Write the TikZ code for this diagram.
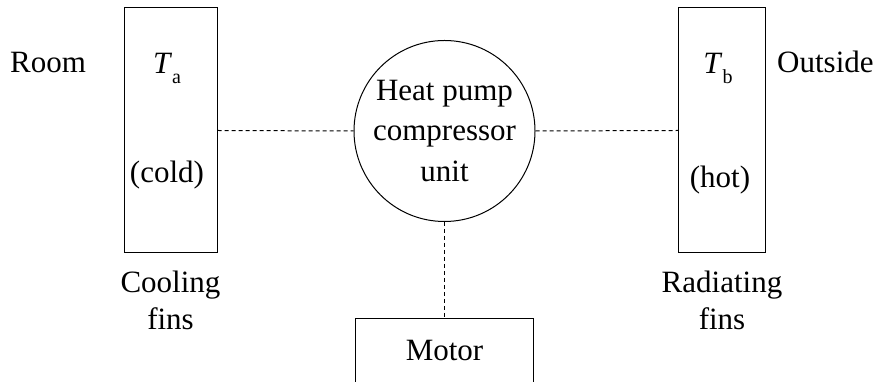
\documentclass[tikz,border=0pt]{standalone}
\usepackage{fontspec}
\setmainfont{Liberation Serif}
\usetikzlibrary{positioning}

\newcommand{\tsub}[2]{\textit{#1}\raisebox{-0.3em}{\fontsize{20}{20}\selectfont #2}}

\begin{document}
\begin{tikzpicture}[x=1pt, y=1pt, font=\fontsize{31}{37}\selectfont,
    fin/.style={draw, line width=1pt, minimum height=245pt, inner sep=0pt},
    lbl/.style={inner sep=0pt},
    link/.style={draw=black, line width=1pt, dash pattern=on 4pt off 3pt}]
    \useasboundingbox (0,0) rectangle (880,382);

    % fins and compressor
    \node[fin, minimum width=93pt] (coldfins) at (170.5,251.5) {};
    \node[fin, minimum width=87pt] (hotfins) at (722,251.5) {};
    \node[draw, circle, line width=1pt, minimum size=181pt, inner sep=0pt, align=center,
          font=\fontsize{31}{40.5}\selectfont] (pump) at (444.5,251)
          {Heat pump\\compressor\\unit};

    % motor, open at the bottom edge
    \node[lbl, anchor=north, minimum width=178pt, minimum height=63pt] (motor) at (444.5,63) {Motor};
    \draw[line width=1pt] (motor.south west) |- (motor.north east) -- (motor.south east);

    % labels
    \node[lbl, anchor=base west] (room) at (10,309) {Room};
    \node[lbl, anchor=base west] (outside) at (777,309) {Outside};
    \node[lbl, anchor=base] (ta) at (167,308) {\tsub{T}{a}};
    \node[lbl, anchor=base] (tb) at (718,308) {\tsub{T}{b}};
    \node[lbl, anchor=base] (cold) at (167,199) {(cold)};
    \node[lbl, anchor=base] (hot) at (720,194) {(hot)};
    \node[lbl, align=center, below=17pt of coldfins] (coolfins) {Cooling\\fins};
    \node[lbl, align=center, below=17pt of hotfins] (radfins) {Radiating\\fins};

    % shafts
    \draw[link] (coldfins.east) -- (pump.west);
    \draw[link] (pump.east) -- (hotfins.west);
    \draw[link] (pump.south) -- (motor.north);
\end{tikzpicture}
\end{document}
